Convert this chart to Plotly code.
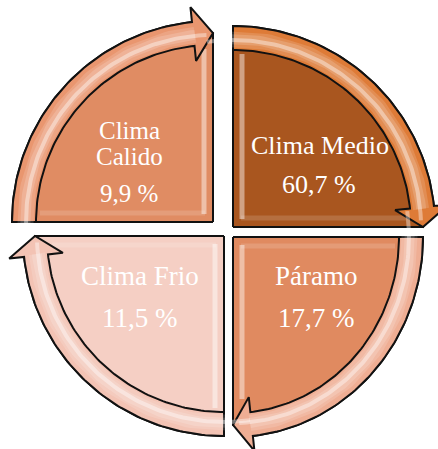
import numpy as np
import plotly.graph_objects as go

# ---- data ----
labels = ["Clima Calido", "Clima Medio", "Páramo", "Clima Frio"]
values = [9.9, 60.7, 17.7, 11.5]

# ---- styling / layout (not data) ----
fill_colors = ["#E08C63", "#A9561F", "#E08A60", "#F5CFC4"]
band_colors = ["#E9966F", "#DE7B37", "#EFAE94", "#F3C3B4"]
# quadrant geometry in pixel space: center x, center y, rx, ry, start angle, end angle (deg)
quads = [
    (213, 222, 201, 201, 180, 90),
    (233, 227, 202, 201, 90, 0),
    (233, 237, 190, 200, 0, -90),
    (224, 236, 201, 200, -90, -180),
]
# label line positions (one entry per rendered line)
label_lines_pos = [[(129, 130), (129, 156)], [(320, 145)], [(316, 276)], [(140, 276)]]
label_wrap = [True, False, False, False]
value_pos = [(129, 193), (319, 184), (316, 318), (140, 318)]
font_sizes = [25, 26, 27, 27]

BAND = 24
HEAD = 15
HEAD_LEN = 6.0  # degrees

W, H = 438, 449
fig = go.Figure()


def pt(q, d, th):
    cx, cy, rx, ry, _, _ = q
    t = np.radians(th)
    return cx + (rx - d) * np.cos(t), cy - (ry - d) * np.sin(t)


def arc(q, d, a, b, n=80):
    th = np.linspace(a, b, n)
    xs, ys = pt(q, d, th)
    return list(xs), list(ys)


def line(xs, ys, color, width):
    fig.add_trace(go.Scatter(x=xs, y=ys, mode="lines", line=dict(color=color, width=width),
                             hoverinfo="skip", showlegend=False))


for i, q in enumerate(quads):
    cx, cy, rx, ry, ts, te = q
    sgn = -1 if te < ts else 1
    tb = te - sgn * HEAD_LEN
    # quadrant fill
    ax, ay = arc(q, 0, ts, tb)
    tx, ty = pt(q, BAND / 2, te)
    xs = [cx] + ax + [tx, cx]
    ys = [cy] + ay + [ty, cy]
    fig.add_trace(go.Scatter(x=xs, y=ys, fill="toself", fillcolor=fill_colors[i],
                             mode="lines", line=dict(color="#111111", width=2),
                             hoverinfo="skip", showlegend=False))
    # bevel strips along straight edges
    for th_edge, th_other in ((ts, te), (te, ts)):
        e = np.array([np.cos(np.radians(th_edge)), -np.sin(np.radians(th_edge))])
        o = np.array([np.cos(np.radians(th_other)), -np.sin(np.radians(th_other))])
        vertical = abs(e[0]) < 0.5
        tmax = min(rx, ry) - BAND - 4
        p0 = np.array([cx, cy]) + e * 8 + o * 9
        p1 = np.array([cx, cy]) + e * tmax + o * 9
        alpha = 0.45 if vertical else 0.15
        line([p0[0], p1[0]], [p0[1], p1[1]], f"rgba(255,255,255,{alpha})", 5)
    # arrow band
    ox, oy = arc(q, 0, ts, tb)
    ix, iy = arc(q, BAND, tb, ts)
    hox, hoy = pt(q, -HEAD, tb)
    hix, hiy = pt(q, BAND + HEAD, tb)
    xs = ox + [hox, tx, hix] + ix + [ox[0]]
    ys = oy + [hoy, ty, hiy] + iy + [oy[0]]
    fig.add_trace(go.Scatter(x=xs, y=ys, fill="toself", fillcolor=band_colors[i],
                             mode="lines", line=dict(color="#111111", width=2),
                             hoverinfo="skip", showlegend=False))
    # band gradient / highlight
    hx, hy = arc(q, BAND / 2 + 1, ts - sgn * 2, tb + sgn * 0.5)
    line(hx, hy, "rgba(255,255,255,0.14)", 16)
    line(hx, hy, "rgba(255,255,255,0.16)", 10)
    hx2, hy2 = arc(q, BAND / 2 + 2, ts - sgn * 8, tb + sgn * 4)
    line(hx2, hy2, "rgba(255,255,255,0.40)", 4)

fam = "Liberation Serif, Times New Roman, serif"
for i in range(4):
    parts = labels[i].split(" ") if label_wrap[i] else [labels[i]]
    for txt, (x, y) in zip(parts, label_lines_pos[i]):
        fig.add_annotation(x=x, y=y, text=txt, showarrow=False,
                           xanchor="center", yanchor="middle",
                           font=dict(family=fam, size=font_sizes[i], color="white"))
    fig.add_annotation(x=value_pos[i][0], y=value_pos[i][1],
                       text=f"{values[i]:.1f}".replace(".", ",") + " %",
                       showarrow=False, xanchor="center", yanchor="middle",
                       font=dict(family=fam, size=font_sizes[i], color="white"))

fig.update_layout(
    width=W, height=H, margin=dict(l=0, r=0, t=0, b=0),
    paper_bgcolor="white", plot_bgcolor="white",
    xaxis=dict(range=[0, W], visible=False, fixedrange=True),
    yaxis=dict(range=[H, 0], visible=False, fixedrange=True),
)
fig.write_html("out.html", config={"displayModeBar": False},
               post_script="document.body.style.margin='0px';document.body.style.overflow='hidden';")
